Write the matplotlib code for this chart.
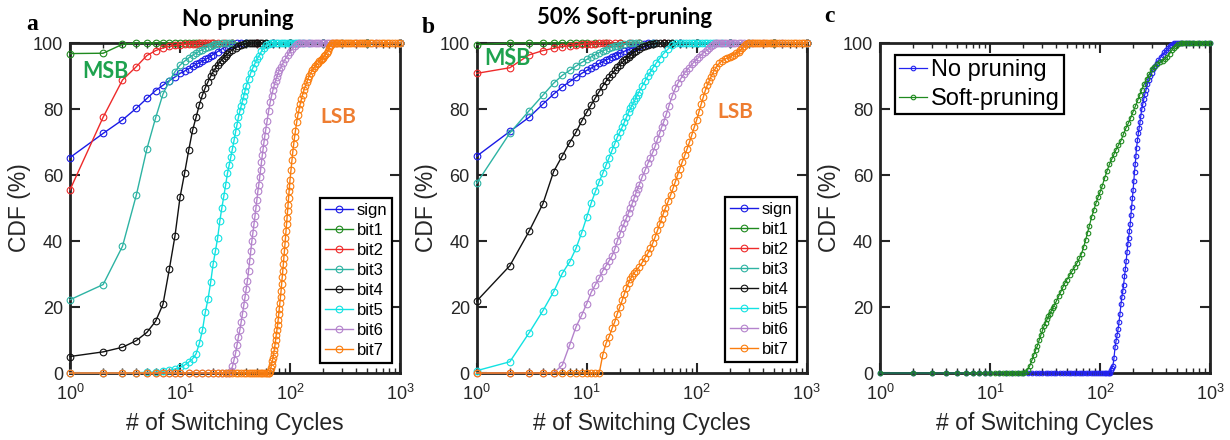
import matplotlib
matplotlib.use('Agg')
import matplotlib.pyplot as plt
from matplotlib.ticker import LogLocator, NullFormatter

plt.rcParams['font.family'] = ['Liberation Sans', 'DejaVu Sans']
plt.rcParams['mathtext.default'] = 'regular'

# CDF readings (switching cycles, CDF %) per bit
series_labels = ['sign', 'bit1', 'bit2', 'bit3', 'bit4', 'bit5', 'bit6', 'bit7']
series_colors = ['#1a1ae6', '#1f8a1f', '#ee2a2a', '#2db3a3', '#111111', '#12e2e2', '#b483cc', '#fa7d0e']

# panel a: no pruning
a_sign = [(1, 65.3), (2, 72.6), (3, 76.7), (4, 80.2), (5, 83.2), (6, 85.6), (7, 87.2), (8, 88.6), (9, 89.7), (10, 90.8),
          (11, 91.5), (12, 92.2), (13, 92.9), (14, 93.5), (15, 94.0), (16, 94.5), (17, 95.0), (18, 95.5), (19, 96.0),
          (20, 96.5), (22, 97.4), (24, 98.2), (26, 98.9), (28, 99.4), (30, 99.7), (33, 99.9), (36, 100), (40, 100),
          (50, 100), (70, 100), (100, 100), (200, 100), (500, 100), (1000, 100)]
a_bit1 = [(1, 96.8), (2, 96.9), (3, 99.6), (4, 100), (5, 100), (6, 100), (7, 100), (8, 100), (9, 100), (10, 100),
          (11, 100), (12, 100), (13, 100), (14, 100), (15, 100), (17, 100), (20, 100), (30, 100), (50, 100),
          (100, 100), (200, 100), (500, 100), (1000, 100)]
a_bit2 = [(1, 55.5), (2, 77.5), (3, 88.8), (4, 92.8), (5, 96.2), (6, 97.7), (7, 98.5), (8, 99.0), (9, 99.3), (10, 99.5),
          (11, 99.6), (12, 99.7), (13, 99.8), (14, 99.8), (15, 99.9), (16, 99.9), (17, 100), (18, 100), (19, 100),
          (20, 100), (22, 100), (25, 100), (30, 100), (50, 100), (100, 100), (200, 100), (500, 100), (1000, 100)]
a_bit3 = [(1, 22.2), (2, 26.8), (3, 38.4), (4, 53.8), (5, 67.9), (6, 77.3), (7, 84.5), (8, 88.5), (9, 91.3), (10, 93.3),
          (11, 94.5), (12, 95.5), (13, 96.3), (14, 96.9), (15, 97.5), (16, 98.0), (17, 98.4), (18, 98.8), (19, 99.1),
          (20, 99.4), (21, 99.6), (22, 99.8), (24, 100), (26, 100), (28, 100), (30, 100), (40, 100), (60, 100),
          (100, 100), (200, 100), (500, 100), (1000, 100)]
a_bit4 = [(1, 5.0), (2, 6.4), (3, 7.8), (4, 9.8), (5, 12.3), (6, 15.7), (7, 20.8), (8, 31.5), (9, 41.5), (10, 53.2),
          (11, 60.5), (12, 67.5), (13, 73.5), (14, 77.5), (15, 81.3), (16, 84.3), (17, 86.5), (18, 88.3), (19, 89.9),
          (20, 91.3), (21, 92.4), (22, 93.3), (23, 94.2), (24, 94.9), (25, 95.6), (26, 96.2), (27, 96.7), (28, 97.2),
          (30, 98.0), (32, 98.6), (34, 99.0), (36, 99.4), (38, 99.7), (40, 99.9), (42, 100), (44, 100), (46, 100),
          (48, 100), (50, 100), (53, 100), (56, 100), (60, 100), (70, 100), (100, 100), (200, 100), (500, 100),
          (1000, 100)]
a_bit5 = [(1, 0), (2, 0), (3, 0), (4, 0.1), (5, 0.2), (6, 0.3), (7, 0.5), (8, 0.8), (9, 1.2), (10, 1.7), (11, 2.4),
          (12, 3.3), (13, 4.3), (14, 5.8), (15, 9.0), (16, 13.0), (17, 18.5), (18, 22.5), (19, 27.5), (20, 33.0),
          (21, 37.0), (22, 41.0), (23, 46.0), (24, 50.0), (25, 53.5), (26, 57.0), (27, 60.5), (28, 63.0), (29, 65.5),
          (30, 68.0), (31, 70.5), (32, 73.0), (33, 75.3), (34, 77.5), (35, 79.3), (36, 81.0), (37, 82.5), (38, 84.0),
          (39, 85.5), (40, 87.0), (42, 89.0), (44, 91.0), (46, 92.5), (48, 93.8), (50, 95.0), (52, 96.0), (55, 97.5),
          (58, 98.5), (61, 99.3), (64, 99.8), (67, 100), (70, 100), (74, 100), (78, 100), (82, 100), (86, 100),
          (90, 100), (95, 100), (100, 100), (105, 100), (110, 100), (115, 100), (120, 100), (130, 100), (150, 100),
          (200, 100), (300, 100), (500, 100), (1000, 100)]
a_bit6 = [(1, 0), (2, 0), (3, 0), (4, 0), (5, 0), (6, 0), (7, 0), (8, 0), (9, 0), (10, 0), (12, 0), (14, 0), (16, 0),
          (18, 0), (20, 0), (22, 0), (24, 0), (26, 0), (28, 0), (29, 0.5), (30, 2.0), (31, 4.0), (32, 6.0), (33, 8.5),
          (34, 11.0), (35, 13.0), (36, 15.5), (37, 18.0), (38, 20.5), (39, 23.0), (40, 25.5), (41, 28.0), (42, 31.0),
          (43, 34.0), (44, 37.0), (45, 40.0), (46, 42.5), (47, 45.0), (48, 47.5), (49, 50.0), (50, 52.5), (51, 55.0),
          (52, 57.0), (53, 59.3), (54, 61.5), (55, 63.8), (56, 66.0), (57, 68.0), (58, 70.0), (59, 71.8), (60, 73.5),
          (62, 76.5), (64, 79.5), (66, 82.0), (68, 84.0), (70, 85.8), (72, 87.3), (74, 88.6), (76, 89.8), (78, 90.8),
          (80, 91.8), (83, 92.8), (86, 93.8), (90, 95.0), (95, 96.3), (100, 97.3), (105, 98.2), (110, 99.0),
          (115, 99.6), (120, 100), (126, 100), (132, 100), (138, 100), (145, 100), (152, 100), (160, 100), (168, 100),
          (176, 100), (185, 100), (195, 100), (205, 100), (215, 100), (225, 100), (240, 100), (260, 100), (300, 100),
          (400, 100), (600, 100), (1000, 100)]
a_bit7 = [(1, 0), (2, 0), (3, 0), (4, 0), (5, 0), (6, 0), (7, 0), (8, 0), (9, 0), (10, 0), (12, 0), (14, 0), (16, 0),
          (18, 0), (20, 0), (22, 0), (24, 0), (26, 0), (28, 0), (30, 0), (32, 0), (34, 0), (36, 0), (38, 0), (40, 0),
          (42, 0), (44, 0), (46, 0), (48, 0), (50, 0), (52, 0), (54, 0), (56, 0), (58, 0), (60, 0), (62, 0), (64, 0),
          (65, 0), (66, 0.5), (67, 1.5), (68, 2.5), (69, 3.5), (70, 4.5), (71, 5.7), (72, 7.0), (73, 8.5), (74, 10.0),
          (75, 11.5), (76, 13.0), (77, 14.5), (78, 16.0), (79, 17.8), (80, 19.5), (81, 21.3), (82, 23.0), (83, 25.0),
          (84, 27.0), (85, 29.0), (86, 31.0), (87, 33.0), (88, 35.0), (89, 37.0), (90, 39.0), (91, 41.0), (92, 43.0),
          (93, 45.0), (94, 47.0), (95, 49.0), (96, 51.0), (97, 53.0), (98, 55.0), (99, 56.8), (100, 58.5),
          (102, 61.5), (104, 64.5), (106, 67.0), (108, 69.3), (110, 71.5), (112, 73.3), (115, 76.0), (118, 78.2),
          (121, 80.0), (124, 81.6), (127, 83.0), (130, 84.3), (134, 85.8), (138, 87.0), (142, 88.2), (146, 89.2),
          (150, 90.0), (155, 91.0), (160, 91.8), (165, 92.5), (170, 93.0), (175, 93.5), (180, 94.0), (185, 94.4),
          (190, 94.8), (195, 95.1), (200, 95.5), (205, 96.0), (210, 96.5), (215, 97.1), (220, 97.7), (225, 98.4),
          (230, 99.0), (235, 99.5), (240, 100), (250, 100), (260, 100), (270, 100), (280, 100), (290, 100),
          (300, 100), (315, 100), (330, 100), (345, 100), (360, 100), (380, 100), (400, 100), (420, 100), (440, 100),
          (460, 100), (480, 100), (500, 100), (530, 100), (560, 100), (600, 100), (640, 100), (680, 100), (720, 100),
          (760, 100), (800, 100), (850, 100), (900, 100), (950, 100), (1000, 100)]

# panel b: 50% soft-pruning
b_sign = [(1, 65.7), (2, 73.2), (3, 77.5), (4, 81.5), (5, 84.5), (6, 86.7), (7, 88.3), (8, 89.6), (9, 90.8), (10, 91.7),
          (11, 92.4), (12, 93.1), (13, 93.8), (14, 94.3), (15, 94.8), (16, 95.3), (17, 95.7), (18, 96.1), (19, 96.5),
          (20, 96.9), (22, 97.5), (24, 98.0), (26, 98.5), (28, 98.9), (30, 99.2), (33, 99.6), (36, 99.9), (40, 100),
          (50, 100), (70, 100), (100, 100), (200, 100), (500, 100), (1000, 100)]
b_bit1 = [(1, 99.5), (2, 100), (3, 100), (4, 100), (5, 100), (6, 100), (7, 100), (8, 100), (9, 100), (10, 100),
          (12, 100), (15, 100), (20, 100), (30, 100), (50, 100), (100, 100), (200, 100), (500, 100), (1000, 100)]
b_bit2 = [(1, 90.8), (2, 92.5), (3, 96.4), (4, 97.7), (5, 98.4), (6, 98.9), (7, 99.2), (8, 99.4), (9, 99.6), (10, 99.7),
          (11, 99.8), (12, 99.8), (13, 99.9), (14, 99.9), (15, 100), (16, 100), (18, 100), (20, 100), (25, 100),
          (30, 100), (50, 100), (100, 100), (200, 100), (500, 100), (1000, 100)]
b_bit3 = [(1, 57.5), (2, 72.7), (3, 79.5), (4, 84.2), (5, 87.8), (6, 90.2), (7, 91.7), (8, 93.0), (9, 94.1), (10, 95.0),
          (11, 95.8), (12, 96.5), (13, 97.1), (14, 97.6), (15, 98.0), (16, 98.4), (17, 98.7), (18, 99.0), (19, 99.2),
          (20, 99.4), (22, 99.7), (24, 99.9), (26, 100), (28, 100), (30, 100), (40, 100), (60, 100), (100, 100),
          (200, 100), (500, 100), (1000, 100)]
b_bit4 = [(1, 21.8), (2, 32.5), (3, 43.0), (4, 51.3), (5, 61.0), (6, 65.8), (7, 69.8), (8, 73.0), (9, 76.3), (10, 79.0),
          (11, 81.3), (12, 83.4), (13, 85.3), (14, 87.0), (15, 88.4), (16, 89.6), (17, 90.7), (18, 91.7), (19, 92.6),
          (20, 93.4), (21, 94.1), (22, 94.7), (23, 95.3), (24, 95.8), (25, 96.3), (26, 96.8), (27, 97.2), (28, 97.6),
          (30, 98.2), (32, 98.7), (34, 99.1), (36, 99.4), (38, 99.6), (40, 99.8), (43, 99.9), (46, 100), (50, 100),
          (55, 100), (60, 100), (70, 100), (100, 100), (200, 100), (500, 100), (1000, 100)]
b_bit5 = [(1, 0.7), (2, 3.4), (3, 12.2), (4, 18.9), (5, 24.6), (6, 30.2), (7, 33.7), (8, 37.8), (9, 42.5), (10, 47.2),
          (11, 51.6), (12, 55.0), (13, 58.0), (14, 60.5), (15, 63.0), (16, 65.3), (17, 67.5), (18, 69.5), (19, 71.5),
          (20, 73.0), (21, 74.5), (22, 76.0), (23, 77.5), (24, 79.0), (25, 80.2), (26, 81.3), (27, 82.3), (28, 83.3),
          (29, 84.3), (30, 85.3), (32, 87.0), (34, 88.5), (36, 90.0), (38, 91.3), (40, 92.5), (43, 94.0), (46, 95.3),
          (50, 96.8), (55, 98.2), (60, 99.3), (65, 100), (70, 100), (75, 100), (80, 100), (85, 100), (90, 100),
          (95, 100), (100, 100), (106, 100), (112, 100), (118, 100), (125, 100), (132, 100), (140, 100), (150, 100),
          (170, 100), (200, 100), (300, 100), (500, 100), (1000, 100)]
b_bit6 = [(1, 0), (2, 0), (3, 0), (4, 0), (5, 0), (6, 2.4), (7, 8.5), (8, 14.0), (9, 17.5), (10, 21.0), (11, 24.5),
          (12, 26.8), (13, 28.8), (14, 31.0), (15, 32.5), (16, 34.0), (17, 35.5), (18, 37.5), (19, 40.0), (20, 42.0),
          (21, 44.0), (22, 45.5), (23, 47.0), (24, 48.5), (25, 50.0), (26, 51.5), (27, 53.0), (28, 54.5), (29, 55.8),
          (30, 57.0), (32, 59.5), (34, 61.5), (36, 63.5), (38, 65.3), (40, 67.0), (42, 68.8), (44, 70.8), (46, 72.6),
          (48, 74.5), (50, 76.0), (53, 78.5), (56, 81.0), (60, 84.0), (64, 86.3), (68, 88.0), (72, 89.3), (76, 90.5),
          (80, 91.5), (85, 92.5), (90, 93.5), (95, 94.3), (100, 95.0), (106, 95.9), (112, 96.7), (118, 97.3),
          (124, 97.9), (130, 98.4), (136, 99.0), (142, 99.5), (148, 99.9), (152, 100), (160, 100), (168, 100),
          (176, 100), (185, 100), (195, 100), (205, 100), (215, 100), (225, 100), (240, 100), (255, 100), (270, 100),
          (290, 100), (320, 100), (400, 100), (600, 100), (1000, 100)]
b_bit7 = [(1, 0), (2, 0), (3, 0), (4, 0), (5, 0), (6, 0), (7, 0), (8, 0), (9, 0), (10, 0), (11, 0), (12, 0), (13, 0),
          (14, 5.5), (15, 9.0), (16, 11.0), (17, 13.5), (18, 15.5), (19, 18.0), (20, 20.0), (21, 22.0), (22, 24.0),
          (23, 25.8), (24, 27.3), (25, 28.5), (26, 29.5), (27, 30.3), (28, 31.0), (30, 32.2), (32, 33.5), (34, 35.0),
          (36, 36.3), (38, 37.8), (40, 39.5), (42, 41.3), (44, 43.2), (46, 45.0), (48, 46.8), (50, 48.5), (52, 50.0),
          (55, 52.0), (58, 54.0), (61, 56.0), (64, 58.0), (67, 60.0), (70, 61.8), (74, 64.0), (78, 66.0), (82, 68.0),
          (86, 70.0), (90, 72.0), (95, 74.5), (100, 76.7), (105, 79.2), (110, 81.5), (115, 83.7), (120, 85.7),
          (125, 87.3), (130, 88.5), (135, 89.8), (140, 90.8), (145, 91.8), (150, 92.6), (160, 93.8), (170, 94.6),
          (180, 95.1), (190, 95.5), (200, 95.9), (210, 96.2), (220, 96.5), (230, 96.9), (240, 97.3), (250, 97.8),
          (260, 98.4), (270, 99.1), (280, 99.7), (290, 100), (300, 100), (315, 100), (330, 100), (345, 100),
          (360, 100), (380, 100), (400, 100), (420, 100), (440, 100), (460, 100), (480, 100), (500, 100), (530, 100),
          (560, 100), (600, 100), (640, 100), (680, 100), (720, 100), (760, 100), (800, 100), (850, 100), (900, 100),
          (950, 100), (1000, 100)]

# panel c: all bits, no pruning vs soft-pruning
c_labels = ['No pruning', 'Soft-pruning']
c_colors = ['#2323f0', '#1f8a1f']
c_none = [(1, 0), (2, 0), (3, 0), (4, 0), (5, 0), (6, 0), (7, 0), (8, 0), (9, 0), (10, 0), (12, 0), (14, 0), (16, 0),
          (18, 0), (20, 0), (22, 0), (24, 0), (26, 0), (28, 0), (30, 0), (32, 0), (34, 0), (36, 0), (38, 0), (40, 0),
          (43, 0), (46, 0), (49, 0), (52, 0), (55, 0), (58, 0), (61, 0), (64, 0), (67, 0), (70, 0), (74, 0), (78, 0),
          (82, 0), (86, 0), (90, 0), (94, 0), (98, 0), (102, 0), (106, 0), (110, 0), (114, 0), (118, 0), (121, 0),
          (123, 0), (125, 0.8), (128, 1.5), (131, 2.2), (134, 4.5), (137, 7.8), (140, 9.8), (143, 11.5), (146, 13.3),
          (149, 15.5), (152, 18.0), (155, 20.8), (158, 23.0), (161, 24.8), (164, 26.8), (167, 29.3), (170, 31.5),
          (173, 34.0), (176, 36.6), (179, 39.0), (182, 41.0), (185, 43.0), (188, 45.0), (191, 47.8), (194, 50.4),
          (197, 53.0), (200, 55.5), (203, 58.3), (206, 61.0), (209, 63.3), (212, 65.8), (215, 68.3), (219, 70.5),
          (223, 72.6), (227, 74.3), (231, 76.0), (235, 78.0), (240, 80.0), (245, 81.5), (250, 83.0), (256, 84.6),
          (262, 85.8), (270, 87.5), (278, 88.8), (286, 90.0), (295, 91.0), (305, 92.0), (315, 93.0), (327, 94.0),
          (340, 94.8), (355, 95.7), (370, 96.3), (385, 97.2), (400, 97.8), (415, 98.4), (430, 99.0), (445, 99.4),
          (460, 99.7), (475, 100), (490, 100), (510, 100), (530, 100), (560, 100), (600, 100), (650, 100),
          (700, 100), (800, 100), (900, 100), (1000, 100)]
c_soft = [(1, 0), (2, 0), (3, 0), (4, 0), (5, 0), (6, 0), (7, 0), (8, 0), (9, 0), (10, 0), (11, 0), (12, 0), (13, 0),
          (14, 0), (15, 0), (16, 0), (17, 0), (18, 0), (19, 0), (20, 0), (21, 0.3), (22, 1.0), (23, 2.2), (24, 3.8),
          (25, 5.5), (26, 7.0), (27, 8.3), (28, 10.0), (29, 11.5), (30, 12.9), (31, 14.2), (32, 15.3), (33, 16.3),
          (34, 17.2), (35, 18.0), (36, 18.8), (37, 19.6), (38, 20.3), (40, 21.7), (42, 23.2), (44, 24.6), (46, 26.0),
          (48, 27.3), (50, 28.3), (53, 29.7), (56, 31.0), (59, 32.1), (62, 33.4), (65, 34.8), (68, 36.2), (71, 38.2),
          (74, 40.3), (77, 42.5), (80, 44.6), (84, 47.3), (88, 49.5), (92, 51.5), (96, 53.3), (100, 54.8),
          (105, 56.8), (110, 59.0), (116, 61.3), (122, 63.3), (128, 64.8), (134, 66.3), (140, 67.7), (147, 69.0),
          (155, 70.4), (163, 72.3), (172, 74.2), (181, 75.7), (190, 77.3), (200, 79.2), (210, 80.9), (220, 82.6),
          (230, 84.3), (240, 85.9), (252, 87.6), (265, 89.1), (280, 90.5), (295, 92.0), (310, 92.8), (330, 93.5),
          (350, 94.1), (370, 94.6), (390, 95.2), (410, 95.8), (430, 96.8), (450, 97.8), (470, 98.5), (490, 99.2),
          (515, 99.6), (540, 99.9), (560, 100), (580, 100), (600, 100), (630, 100), (660, 100), (690, 100),
          (720, 100), (760, 100), (800, 100), (850, 100), (900, 100), (950, 100), (1000, 100)]

TEXT_GRAY = '#262626'
W, H = 1230, 440


def split(pairs):
    return [p[0] for p in pairs], [p[1] for p in pairs]


def style_axes(ax):
    ax.set_xscale('log')
    ax.set_xlim(1, 1000)
    ax.set_ylim(0, 100)
    ax.set_yticks([0, 20, 40, 60, 80, 100])
    ax.xaxis.set_major_locator(LogLocator(base=10, numticks=10))
    ax.xaxis.set_minor_locator(LogLocator(base=10, subs=range(2, 10), numticks=30))
    ax.xaxis.set_minor_formatter(NullFormatter())
    ax.tick_params(which='both', direction='in', top=True, right=True, colors=TEXT_GRAY, labelsize=13)
    ax.tick_params(which='major', length=7, width=1.5, pad=5)
    ax.tick_params(axis='x', which='major', pad=7.5)
    ax.tick_params(which='minor', length=3.6, width=1)
    for s in ax.spines.values():
        s.set_linewidth(2)
        s.set_color('#222222')
    ax.set_xlabel('# of Switching Cycles', fontsize=16.5, color=TEXT_GRAY)
    ax.set_ylabel('CDF (%)', fontsize=16.5, color=TEXT_GRAY)
    ax.xaxis.set_label_coords(0.5, -0.118)
    ax.yaxis.set_label_coords(-0.118, 0.5)


def draw_bits(ax, data, legend_anchor):
    for pairs, label, color in zip(data, series_labels, series_colors):
        x, y = split(pairs)
        ax.plot(x, y, '-o', color=color, lw=1.0, ms=4.8, mfc='none', mew=0.8,
                label=label, clip_on=False, zorder=3)
    leg = ax.legend(loc='lower right', bbox_to_anchor=legend_anchor, fontsize=12,
                    fancybox=False, framealpha=1, edgecolor='black', borderpad=0.3,
                    labelspacing=0.3, handlelength=1.7, handletextpad=0.2, borderaxespad=0)
    leg.get_frame().set_linewidth(1.6)
    leg.set_zorder(10)


fig = plt.figure(figsize=(12.3, 4.4), dpi=100)
ax_a = fig.add_axes([70 / W, 67 / H, 330 / W, 330 / H])
ax_b = fig.add_axes([476.7 / W, 67 / H, 330 / W, 330 / H])
ax_c = fig.add_axes([880 / W, 67 / H, 330 / W, 330 / H])

for ax in (ax_a, ax_b, ax_c):
    style_axes(ax)

draw_bits(ax_a, [a_sign, a_bit1, a_bit2, a_bit3, a_bit4, a_bit5, a_bit6, a_bit7], (0.976, 0.03))
draw_bits(ax_b, [b_sign, b_bit1, b_bit2, b_bit3, b_bit4, b_bit5, b_bit6, b_bit7], (0.971, 0.033))

for pairs, label, color in zip([c_none, c_soft], c_labels, c_colors):
    x, y = split(pairs)
    ax_c.plot(x, y, '-o', color=color, lw=0.9, ms=3.3, mfc='none', mew=0.8,
              label=label, clip_on=False, zorder=3)
leg_c = ax_c.legend(loc='upper left', bbox_to_anchor=(0.045, 0.964), fontsize=17,
                    fancybox=False, framealpha=1, edgecolor='black', borderpad=0.18,
                    labelspacing=0.3, handlelength=1.2, handletextpad=0.15, borderaxespad=0)
leg_c.get_frame().set_linewidth(1.6)
leg_c.set_zorder(10)


def ftext(px, py, s, **kw):
    fig.text(px / W, 1 - py / H, s, **kw)


serif_bold = dict(family=['Liberation Serif', 'DejaVu Serif'], weight='bold', size=17, va='baseline', ha='center')
ftext(32, 30, 'a', **serif_bold)
ftext(428, 33, 'b', **serif_bold)
ftext(829, 22, 'c', **serif_bold)

title_kw = dict(family=['Lato', 'DejaVu Sans'], weight='bold', size=16, va='baseline', ha='center', color='black')
ftext(238, 26, 'No pruning', **title_kw)
ftext(625, 23.5, '50% Soft-pruning', **title_kw)

msb_kw = dict(family=['Lato', 'DejaVu Sans'], weight='bold', size=15.5, va='baseline', ha='center', color='#1ea24e', zorder=12)
lsb_kw = dict(family=['Lato', 'DejaVu Sans'], weight='bold', size=15, va='baseline', ha='center', color='#ee7d31', zorder=12)
ftext(105, 78, 'MSB', **msb_kw)
ftext(507, 65, 'MSB', **msb_kw)
ftext(338, 123, 'LSB', **lsb_kw)
ftext(735, 118, 'LSB', **lsb_kw)

fig.savefig('out.png', dpi=100)
